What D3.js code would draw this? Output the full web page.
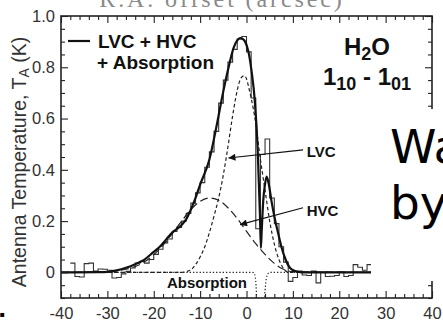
<!DOCTYPE html>
<html>
<head>
<meta charset="utf-8">
<script src="https://cdn.jsdelivr.net/npm/d3@7"></script>
<style>
  body { margin: 0; background: #fff; }
  svg { display: block; }
</style>
</head>
<body>
<div id="chart"></div>
<script>
const width = 443;
const height = 325;

// observed spectrum, 1 km/s channels (centres)
const chanV = d3.range(-37.5, 27, 1);
const chanT = [
  0.036, -0.016, -0.018, 0.034, 0.036, 0.005, 0.013, 0.012, 0.008, -0.022,
  -0.02, -0.006, 0.004, 0.017, 0.036, 0.043, 0.036, 0.05, 0.07, 0.09,
  0.115, 0.13, 0.16, 0.175, 0.20, 0.23, 0.27, 0.31, 0.35, 0.41,
  0.47, 0.55, 0.66, 0.75, 0.82, 0.87, 0.91, 0.92, 0.86, 0.68,
  0.17, 0.46, 0.52, 0.29, 0.19, 0.10, 0.04, -0.035, -0.02, 0.005,
  -0.01, -0.012, 0.005, -0.041, 0.0, -0.016, -0.015, -0.012, 0.0, -0.016,
  -0.012, 0.03, 0.02, 0.008, 0.03
];

// LVC + HVC + Absorption fit
const fitV = [-40, -32, -30, -28, -26, -24, -22, -20, -19, -16, -14, -12.9, -12, -11, -10, -8, -6.4, -5, -3.9, -2.8, -2, -1.4, -0.8, -0.3, 0.4, 1.1, 1.8, 2.4, 2.9, 3.1, 3.3, 3.6, 4.0, 4.35, 4.8, 5.4, 6.1, 6.9, 7.6, 8.3, 9.4, 10.5, 12, 27];
const fitT = [0, 0.001, 0.002, 0.008, 0.018, 0.032, 0.05, 0.08, 0.095, 0.155, 0.185, 0.21, 0.245, 0.29, 0.342, 0.44, 0.576, 0.706, 0.797, 0.875, 0.905, 0.914, 0.91, 0.90, 0.862, 0.784, 0.667, 0.486, 0.225, 0.095, 0.17, 0.277, 0.345, 0.374, 0.345, 0.277, 0.21, 0.147, 0.095, 0.056, 0.017, 0.005, 0, 0];

// low velocity component
const lvcV = [-40, -14, -13, -12, -11, -10, -9, -8, -7, -6, -5, -4, -3, -2, -1.5, -1, -0.5, 0, 0.5, 1, 1.5, 2, 2.5, 3, 3.5, 4, 5, 6, 7, 8, 9, 27];
const lvcT = [0, 0, 0.003, 0.01, 0.03, 0.06, 0.10, 0.155, 0.22, 0.29, 0.38, 0.49, 0.61, 0.71, 0.745, 0.762, 0.767, 0.755, 0.72, 0.68, 0.635, 0.58, 0.51, 0.44, 0.38, 0.32, 0.20, 0.11, 0.05, 0.015, 0, 0];

// high velocity component
const hvcV = [-40, -32, -28, -26, -24, -22, -20, -18, -16, -14, -12, -10, -8, -6, -4, -2, 0, 2, 4, 6, 8, 10, 27];
const hvcT = [0, 0.001, 0.006, 0.012, 0.023, 0.041, 0.069, 0.106, 0.152, 0.200, 0.245, 0.277, 0.290, 0.281, 0.252, 0.210, 0.160, 0.112, 0.070, 0.035, 0.012, 0.003, 0];

// absorption component
const absV = [-40, 1.2, 1.6, 1.9, 2.05, 2.2, 2.5, 3.05, 3.6, 3.9, 4.1, 4.4, 4.8, 5.2, 27];
const absT = [0, 0, -0.002, -0.02, -0.05, -0.1, -0.25, -0.45, -0.25, -0.1, -0.05, -0.015, -0.002, 0, 0];

const xMajor = [-40, -30, -20, -10, 0, 10, 20, 30, 40];
const yMajor = [0, 0.2, 0.4, 0.6, 0.8, 1.0];

const svg = d3.select("#chart")
  .append("svg")
  .attr("width", width)
  .attr("height", height)

const x = d3.scaleLinear().domain([-40, 40]).range([61, 432]);
const y = d3.scaleLinear().domain([-0.1, 1.0]).range([298, 16]);

const font = "'Liberation Sans', Arial, Helvetica, sans-serif";

svg.append("defs").append("clipPath").attr("id", "plot")
  .append("rect")
  .attr("x", x(-40)).attr("y", y(1.0))
  .attr("width", x(40) - x(-40)).attr("height", y(-0.1) - y(1.0));

const g = svg.append("g").attr("clip-path", "url(#plot)");

const zip = (vs, ts) => vs.map((v, i) => [v, ts[i]]);
const smooth = d3.line().x(d => x(d[0])).y(d => y(d[1])).curve(d3.curveMonotoneX);

// histogram steps
const steps = [];
chanV.forEach((v, i) => {
  steps.push([v - 0.5, chanT[i]]);
  steps.push([v + 0.5, chanT[i]]);
});
g.append("path")
  .datum(steps)
  .attr("d", d3.line().x(d => x(d[0])).y(d => y(d[1])))
  .style("fill", "none")
  .style("stroke", "#333")
  .style("stroke-width", 1.1)

g.append("path")
  .datum(zip(absV, absT))
  .attr("d", smooth)
  .style("fill", "none")
  .style("stroke", "#222")
  .style("stroke-width", 1.2)
  .style("stroke-dasharray", "1.3,2")

g.append("path")
  .datum(zip(hvcV, hvcT))
  .attr("d", smooth)
  .style("fill", "none")
  .style("stroke", "#222")
  .style("stroke-width", 1.2)
  .style("stroke-dasharray", "8,4")

g.append("path")
  .datum(zip(lvcV, lvcT))
  .attr("d", smooth)
  .style("fill", "none")
  .style("stroke", "#222")
  .style("stroke-width", 1.2)
  .style("stroke-dasharray", "3.5,2.5")

g.append("path")
  .datum(zip(fitV, fitT))
  .attr("d", smooth)
  .style("fill", "none")
  .style("stroke", "#111")
  .style("stroke-width", 2.2)

//////////////////////////////////
////////////// axes //////////////
//////////////////////////////////

const xMinor = d3.range(-40, 41, 2).filter(d => d % 10 !== 0);
const yMinor = d3.range(-2, 21).map(d => d * 0.05).filter(d => Math.round(d * 100) % 20 !== 0);

function styleAxis(sel) {
  sel.select(".domain").remove();
  sel.selectAll("line").style("stroke", "#222").style("stroke-width", 1.1);
  sel.selectAll("text").style("font-family", font).style("font-size", "16.5px").style("fill", "#333");
}

svg.append("g")
  .attr("transform", `translate(0,${y(-0.1)})`)
  .call(d3.axisBottom(x).tickValues(xMajor).tickSize(-7).tickPadding(9).tickFormat(d => String(d)))
  .call(styleAxis);
svg.append("g")
  .attr("transform", `translate(0,${y(-0.1)})`)
  .call(d3.axisBottom(x).tickValues(xMinor).tickSize(-4).tickFormat(""))
  .call(styleAxis);
svg.append("g")
  .attr("transform", `translate(0,${y(1.0)})`)
  .call(d3.axisTop(x).tickValues(xMajor).tickSize(-7).tickFormat(""))
  .call(styleAxis);
svg.append("g")
  .attr("transform", `translate(0,${y(1.0)})`)
  .call(d3.axisTop(x).tickValues(xMinor).tickSize(-4).tickFormat(""))
  .call(styleAxis);

svg.append("g")
  .attr("transform", `translate(${x(-40)},0)`)
  .call(d3.axisLeft(y).tickValues(yMajor).tickSize(-7).tickPadding(6).tickFormat(d => d === 0 ? "0" : d.toFixed(1)))
  .call(styleAxis);
svg.append("g")
  .attr("transform", `translate(${x(-40)},0)`)
  .call(d3.axisLeft(y).tickValues(yMinor).tickSize(-4).tickFormat(""))
  .call(styleAxis);
svg.append("g")
  .attr("transform", `translate(${x(40)},0)`)
  .call(d3.axisRight(y).tickValues(yMajor).tickSize(-7).tickFormat(""))
  .call(styleAxis);
svg.append("g")
  .attr("transform", `translate(${x(40)},0)`)
  .call(d3.axisRight(y).tickValues(yMinor).tickSize(-4).tickFormat(""))
  .call(styleAxis);

svg.append("rect")
  .attr("x", x(-40)).attr("y", y(1.0))
  .attr("width", x(40) - x(-40)).attr("height", y(-0.1) - y(1.0))
  .style("fill", "none")
  .style("stroke", "#222")
  .style("stroke-width", 1.6)

// y axis title
const yt = svg.append("text")
  .attr("transform", "translate(26,162) rotate(-90)")
  .attr("text-anchor", "middle")
  .style("font-family", font)
  .style("font-size", "19.5px")
  .style("fill", "#333")
yt.append("tspan").text("Antenna Temperature, T");
yt.append("tspan").attr("dy", 3).style("font-size", "14px").text("A");
yt.append("tspan").attr("dy", -3).text(" (K)");

// cut-off title above the frame
svg.append("text")
  .attr("x", 222).attr("y", 7)
  .attr("text-anchor", "middle")
  .style("font-family", "'Liberation Serif', 'DejaVu Serif', serif")
  .style("font-size", "24px")
  .style("letter-spacing", "2.9px")
  .style("fill", "#8a8a8a")
  .text("R.A. offset (arcsec)")

//////////////////////////////////
///////// annotations ////////////
//////////////////////////////////

svg.append("line")
  .attr("x1", 68).attr("x2", 90).attr("y1", 41).attr("y2", 41)
  .style("stroke", "#111").style("stroke-width", 2.2)

const bold = sel => sel.style("font-family", font).style("font-weight", "bold").style("fill", "#111");

svg.append("text").attr("x", 98).attr("y", 48).call(bold).style("font-size", "19px").text("LVC + HVC");
svg.append("text").attr("x", 97).attr("y", 69).call(bold).style("font-size", "19px").text("+ Absorption");

const h2o = svg.append("text").attr("x", 367).attr("y", 55).attr("text-anchor", "middle").call(bold).style("font-size", "24px");
h2o.append("tspan").text("H");
h2o.append("tspan").attr("dy", 5).style("font-size", "18px").text("2");
h2o.append("tspan").attr("dy", -5).text("O");

const trans = svg.append("text").attr("x", 367).attr("y", 85).attr("text-anchor", "middle").call(bold).style("font-size", "24px");
trans.append("tspan").text("1");
trans.append("tspan").attr("dy", 5).style("font-size", "18px").text("10");
trans.append("tspan").attr("dy", -5).text(" - 1");
trans.append("tspan").attr("dy", 5).style("font-size", "18px").text("01");

svg.append("defs").append("marker")
  .attr("id", "head")
  .attr("viewBox", "0 0 10 10")
  .attr("refX", 10).attr("refY", 5)
  .attr("markerWidth", 9).attr("markerHeight", 7)
  .attr("markerUnits", "userSpaceOnUse")
  .attr("orient", "auto")
  .append("path").attr("d", "M0,0L10,5L0,10z").style("fill", "#111");

// arrows: label end -> curve
svg.append("line")
  .attr("x1", x(12.2)).attr("y1", y(0.478)).attr("x2", x(-3.9)).attr("y2", y(0.446))
  .style("stroke", "#111").style("stroke-width", 1.2).attr("marker-end", "url(#head)");
svg.append("line")
  .attr("x1", x(12.2)).attr("y1", y(0.252)).attr("x2", x(-1.4)).attr("y2", y(0.186))
  .style("stroke", "#111").style("stroke-width", 1.2).attr("marker-end", "url(#head)");

svg.append("text").attr("x", x(13)).attr("y", 157).call(bold).style("font-size", "15px").text("LVC");
svg.append("text").attr("x", x(13)).attr("y", 216).call(bold).style("font-size", "15px").text("HVC");
svg.append("text").attr("x", 167).attr("y", 288).call(bold).style("font-size", "15px").text("Absorption");

// overlapping slide text
svg.append("rect")
  .attr("x", 371).attr("y", 109).attr("width", 72).attr("height", 172)
  .style("fill", "#fff")

svg.append("text").attr("x", 390).attr("y", 163)
  .style("font-family", "'DejaVu Sans', sans-serif").style("font-size", "47px").style("fill", "#000")
  .text("Wa")
svg.append("text").attr("x", 390).attr("y", 219)
  .style("font-family", "'DejaVu Sans', sans-serif").style("font-size", "47px").style("fill", "#000")
  .text("by")

svg.append("text").attr("x", -2).attr("y", 317)
  .style("font-family", "'DejaVu Sans', sans-serif").style("font-weight", "bold").style("font-size", "22px").style("fill", "#000")
  .text(".")
</script>
</body>
</html>
